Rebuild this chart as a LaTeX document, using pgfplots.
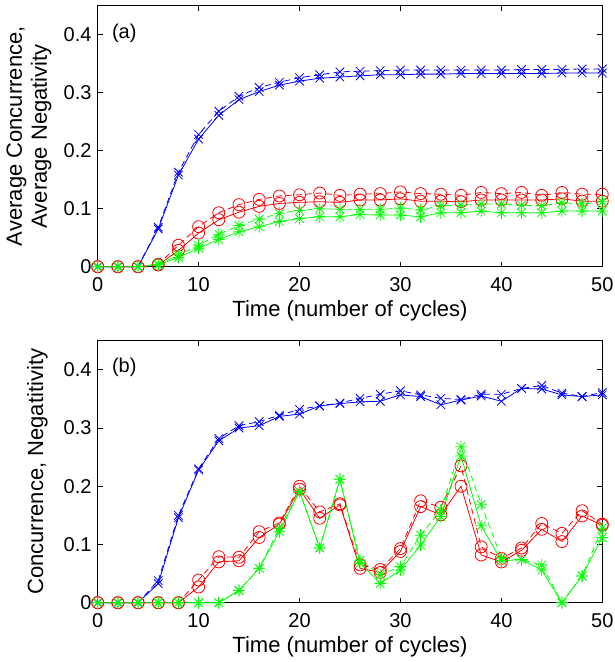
\documentclass[border=0pt]{standalone}
\usepackage{fontspec}
\setmainfont{Liberation Sans}
\usepackage{pgfplots}
\usepackage{pgfplotstable}
\pgfplotsset{compat=1.18}

% MATLAB-style asterisk: plus and cross on top of each other
\pgfdeclareplotmark{mstar}{%
  \pgfpathmoveto{\pgfqpoint{-\pgfplotmarksize}{0pt}}%
  \pgfpathlineto{\pgfqpoint{\pgfplotmarksize}{0pt}}%
  \pgfpathmoveto{\pgfqpoint{0pt}{-\pgfplotmarksize}}%
  \pgfpathlineto{\pgfqpoint{0pt}{\pgfplotmarksize}}%
  \pgfpathmoveto{\pgfqpoint{-.707\pgfplotmarksize}{-.707\pgfplotmarksize}}%
  \pgfpathlineto{\pgfqpoint{.707\pgfplotmarksize}{.707\pgfplotmarksize}}%
  \pgfpathmoveto{\pgfqpoint{-.707\pgfplotmarksize}{.707\pgfplotmarksize}}%
  \pgfpathlineto{\pgfqpoint{.707\pgfplotmarksize}{-.707\pgfplotmarksize}}%
  \pgfusepathqstroke}

% t, blue solid/dashed, red solid/dashed, green solid/dashed
\pgfplotstableread{
t  bs    bd    rs    rd    gs    gd
0  0     0     0     0     0     0
2  0     0     0     0     0     0
4  0     0     0     0     0     0
6  0.065 0.068 0.003 0.004 0.003 0.004
8  0.158 0.163 0.028 0.037 0.016 0.020
10 0.220 0.228 0.058 0.069 0.032 0.037
12 0.261 0.268 0.081 0.093 0.047 0.056
14 0.288 0.294 0.094 0.107 0.060 0.071
16 0.302 0.309 0.104 0.116 0.069 0.082
18 0.313 0.318 0.109 0.122 0.078 0.092
20 0.320 0.326 0.111 0.124 0.083 0.097
22 0.325 0.331 0.112 0.127 0.086 0.100
24 0.327 0.336 0.111 0.123 0.086 0.099
26 0.329 0.337 0.115 0.125 0.090 0.099
28 0.331 0.338 0.115 0.126 0.089 0.099
30 0.331 0.339 0.117 0.129 0.089 0.101
32 0.332 0.339 0.113 0.126 0.086 0.098
34 0.332 0.339 0.113 0.125 0.093 0.105
36 0.333 0.339 0.112 0.123 0.093 0.106
38 0.333 0.339 0.115 0.128 0.096 0.108
40 0.333 0.339 0.115 0.126 0.093 0.108
42 0.333 0.340 0.115 0.128 0.093 0.106
44 0.333 0.340 0.115 0.123 0.093 0.105
46 0.334 0.340 0.117 0.128 0.096 0.110
48 0.334 0.341 0.113 0.125 0.096 0.108
50 0.334 0.341 0.113 0.125 0.096 0.112
}\dataA

\pgfplotstableread{
t  bs    bd    rs    rd    gs    gd
0  0     0     0     0     0     0
2  0     0     0     0     0     0
4  0     0     0     0     0     0
6  0.033 0.038 0     0     0     0
8  0.146 0.150 0     0     0     0
10 0.228 0.230 0.027 0.039 0     0
12 0.278 0.282 0.070 0.079 0     0
14 0.300 0.304 0.072 0.078 0.021 0.021
16 0.304 0.311 0.112 0.122 0.059 0.059
18 0.320 0.322 0.135 0.137 0.122 0.128
20 0.324 0.332 0.195 0.200 0.191 0.191
22 0.338 0.338 0.145 0.156 0.094 0.094
24 0.342 0.343 0.168 0.170 0.212 0.212
26 0.345 0.351 0.059 0.065 0.068 0.073
28 0.346 0.358 0.052 0.057 0.033 0.048
30 0.357 0.364 0.088 0.093 0.056 0.062
32 0.354 0.357 0.165 0.175 0.099 0.116
34 0.340 0.351 0.151 0.164 0.148 0.159
36 0.348 0.349 0.200 0.235 0.252 0.268
38 0.355 0.358 0.082 0.096 0.132 0.169
40 0.346 0.358 0.070 0.076 0.072 0.077
42 0.368 0.368 0.090 0.094 0.074 0.074
44 0.367 0.373 0.126 0.136 0.056 0.065
46 0.357 0.360 0.105 0.119 0     0
48 0.354 0.354 0.149 0.158 0.046 0.046
50 0.357 0.361 0.133 0.135 0.112 0.128
}\dataB

\definecolor{mblue}{RGB}{0,0,255}
\definecolor{mred}{RGB}{255,0,0}
\definecolor{mgreen}{RGB}{0,255,0}

\pgfplotsset{
  mat/.style={
    scale only axis, width=504.6pt, height=261pt,
    xmin=0, xmax=50, ymin=0, ymax=0.45,
    xtick={0,10,20,30,40,50}, ytick={0,0.1,0.2,0.3,0.4},
    tick align=inside, major tick length=5pt,
    axis line style={line width=0.8pt},
    every tick/.style={line width=0.8pt, black},
    ticklabel style={font=\fontsize{20}{24}\selectfont},
    /pgf/number format/assume math mode=true,
    xticklabel style={anchor=base, inner sep=0pt, yshift=-25pt},
    yticklabel style={anchor=east, inner sep=0pt, xshift=-6pt},
    label style={font=\fontsize{22}{25}\selectfont},
    xlabel style={at={(axis description cs:0.5,-0.189)}, anchor=base, inner sep=0pt},
    ylabel style={anchor=south, inner sep=0pt, align=center},
    clip=false,
    every axis plot/.append style={line width=0.8pt, mark size=6pt, mark options={solid}},
  },
  sol/.style={solid},
  das/.style={dash pattern=on 6pt off 4pt},
}

\begin{document}
\begin{tikzpicture}
\useasboundingbox (0,0) rectangle (615pt,662pt);

% ---------- (a) ----------
\begin{axis}[mat, at={(97.7pt,395.3pt)}, anchor=south west,
  xlabel={Time (number of cycles)},
  ylabel={Average Concurrence,\\Average Negativity},
  ylabel style={at={(axis description cs:-0.0912,0.5)}},
]
\addplot[mblue, sol, mark=x] table[x=t, y=bs] {\dataA};
\addplot[mblue, das, mark=x] table[x=t, y=bd] {\dataA};
\addplot[mred, sol, mark=o] table[x=t, y=rs] {\dataA};
\addplot[mred, das, mark=o] table[x=t, y=rd] {\dataA};
\addplot[mgreen, sol, mark=mstar] table[x=t, y=gs] {\dataA};
\addplot[mgreen, das, mark=mstar] table[x=t, y=gd] {\dataA};
\node[anchor=west, inner sep=0pt, font=\fontsize{20}{24}\selectfont] at (axis cs:1.4,0.403) {(a)};
\end{axis}

% ---------- (b) ----------
\begin{axis}[mat, at={(97.7pt,59.3pt)}, anchor=south west, height=262pt,
  xlabel={Time (number of cycles)},
  ylabel={Concurrence, Negatitivity},
  ylabel style={at={(axis description cs:-0.0985,0.5)}},
]
\addplot[mblue, sol, mark=x] table[x=t, y=bs] {\dataB};
\addplot[mblue, das, mark=x] table[x=t, y=bd] {\dataB};
\addplot[mred, sol, mark=o] table[x=t, y=rs] {\dataB};
\addplot[mred, das, mark=o] table[x=t, y=rd] {\dataB};
\addplot[mgreen, sol, mark=mstar] table[x=t, y=gs] {\dataB};
\addplot[mgreen, das, mark=mstar] table[x=t, y=gd] {\dataB};
\node[anchor=west, inner sep=0pt, font=\fontsize{20}{24}\selectfont] at (axis cs:1.4,0.405) {(b)};
\end{axis}
\end{tikzpicture}
\end{document}
